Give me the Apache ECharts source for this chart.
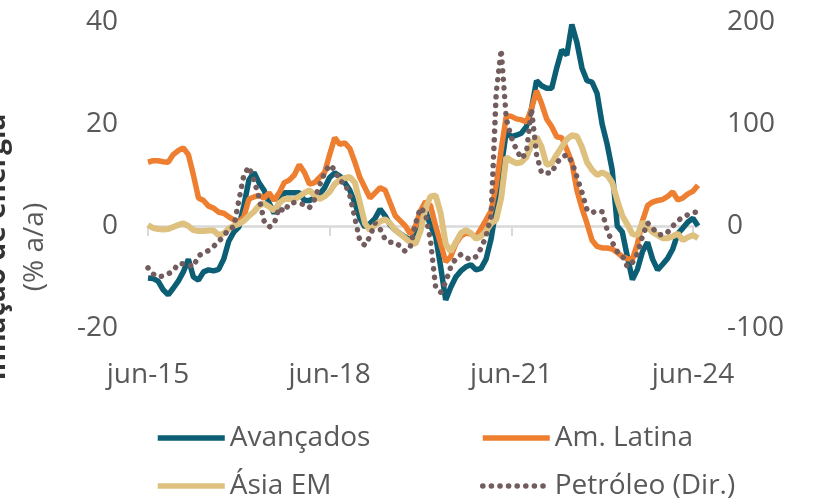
<!DOCTYPE html>
<html>
<head>
<meta charset="utf-8">
<script src="https://cdn.jsdelivr.net/npm/echarts@6/dist/echarts.min.js"></script>
<style>
  html, body { margin: 0; padding: 0; background: #fff; }
  #chart { width: 815px; height: 501px; }
</style>
</head>
<body>
<div id="chart"></div>
<script>
// meses jun-15 .. jul-24
var monthNames = ['jan', 'fev', 'mar', 'abr', 'mai', 'jun', 'jul', 'ago', 'set', 'out', 'nov', 'dez'];
var months = [];
for (var k = 0; k < 110; k++) {
    var m = (5 + k) % 12;
    var y = 15 + Math.floor((5 + k) / 12);
    months.push(monthNames[m] + '-' + y);
}

// inflação de energia (% a/a), eixo esquerdo
var avancados = [
    -10.2, -10.3, -10.8, -12.5, -13.5, -12.2, -10.8, -9, -6.5, -10,
    -10.6, -9, -8.6, -8.8, -8.5, -6.5, -3, -1.2, -0.2, 4,
    9, 10.5, 8.5, 7, 4.5, 2.5, 4.5, 6.5, 6.5, 6.5,
    6.5, 5, 5, 5.5, 6.2, 7.5, 9.5, 10.4, 9.8, 8.5,
    7, 4.5, 1.5, -0.2, 0.5, 1.5, 3.3, 2, 0.2, -0.8,
    -1.5, -2.2, -2.8, -1.5, 1, 3, 0, -2, -8, -14.5,
    -12, -10, -8.8, -8, -7.6, -8.6, -8.3, -6.5, -2.5, 3.5,
    11.5, 18.5, 17.5, 17.8, 18.2, 19.5, 23, 28.5, 27.5, 27,
    27, 31, 34.5, 33.5, 39.5, 36, 31, 28.5, 28.2, 26,
    20, 16, 11, 0, -1.2, -6, -10.5, -8.5, -5, -3.2,
    -6.5, -8.6, -7.5, -6.3, -4.5, -1.5, -0.4, 0.8, 1.5, 0
];
var amLatina = [
    12.5, 12.8, 12.8, 12.6, 12.5, 14, 14.8, 15.3, 14, 10,
    5.5, 5, 3.9, 3.5, 2.7, 2.5, 1.8, 1.2, 0.8, 1.8,
    5.3, 5.7, 6, 5.5, 6.5, 5, 6.5, 8.5, 9, 10,
    12, 10.5, 8.2, 8.5, 9.5, 10.5, 14, 17.3, 16, 16.3,
    15.2, 12.5, 9.5, 7.5, 5.5, 6.5, 7.5, 7, 4.5, 2,
    1, 0, -1.6, 0, 3, 4.8, 4, 0, -3.5, -7,
    -6, -3.5, -2, -1.4, -1.6, -2.2, -0.5, 1.2, 3, 8,
    15, 21.5, 21.5, 21, 20.8, 20.4, 23, 26.5, 24, 21,
    19.5, 17.5, 17.3, 15, 12.5, 7, 3.5, 0.5, -2.8, -4,
    -4.3, -4.3, -4.5, -5.2, -6, -6.4, -6.5, -3.5, 1, 4,
    4.7, 5, 5.2, 5.8, 6.7, 5.1, 5.5, 6.3, 6.8, 8
];
var asiaEM = [
    0.2, -0.4, -0.6, -0.7, -0.6, -0.2, 0.2, 0.5, 0, -0.8,
    -1, -1, -0.9, -0.9, -1.8, -1.5, -0.5, 0, 0.4, 1,
    2, 2.8, 4, 4.4, 3.8, 3, 4.5, 5.3, 5.3, 5.2,
    5.8, 6.5, 7, 6, 5.3, 5.8, 6.7, 8.2, 9, 9.4,
    9.6, 8.5, 4.5, 0.5, -0.8, 0.2, 0.9, 1.3, 0.5, -0.8,
    -1.6, -2.4, -3.2, -3.5, -1, 3.5, 5.8, 6, 2.5, -3.5,
    -5, -3.2, -1.4, -0.8, -1.4, -2.5, -2, -1, 0.5, 1.2,
    5.5, 13.5, 12.8, 12.3, 12.5, 13.5, 15.9, 17.5, 15.5, 12,
    12.3, 14, 15.5, 17, 17.8, 17.6, 15.5, 12.5, 11, 10,
    10.5, 10, 8.5, 5, 2, 0.3, -1.6, -1.8, 0.8, -0.3,
    -1.2, -1.8, -2.4, -2.4, -2, -1.5, -2.8, -2.2, -1.8, -2.4
];
// petróleo (% a/a), eixo direito
var petroleo = [
    -41, -47, -50, -49, -47, -44, -37, -37, -38, -40,
    -29, -27, -24, -20, -15, -10, -3, -1, 25, 50,
    58, 45, 28, 5, -1, 2, 18, 14, 22, 23,
    22, 21, 18, 26, 40, 52, 60, 55, 44, 42,
    30, 8, -15, -19, -10, 3, -3, -13, -16, -16,
    -20, -25, -20, 2, 18, 12, -15, -60, -65, -55,
    -40, -32, -28, -31, -33, -30, -22, -10, 10, 130,
    173, 105, 87, 75, 66, 72, 115, 70, 52, 52,
    52, 62, 67, 70, 63, 48, 33, 16, 13, 15,
    14, -4, -16, -25, -29, -40, -36, -27, -10, 3,
    -2, -8, -9, -6, 0, 5, 9, 11, 13, 14
];

var leftTicks = { min: -20, max: 40, interval: 20 };
var rightTicks = { min: -100, max: 200, interval: 100 };

var colors = {
    avancados: '#0B5E74',
    amLatina: '#EE7F30',
    asia: '#DEC07F',
    petroleo: '#735C5E'
};

var chart = echarts.init(document.getElementById('chart'));

function legendItem(name, left, top) {
    return {
        data: [name],
        left: left,
        top: top,
        padding: 0,
        itemWidth: 67,
        itemHeight: 14,
        selectedMode: false,
        itemStyle: { opacity: 0 },
        lineStyle: { width: 5.5 },
        textStyle: { color: '#595959', fontSize: 28, fontFamily: 'Open Sans' }
    };
}

var option = {
    animation: false,
    textStyle: { fontFamily: 'Open Sans' },
    grid: { left: 148, right: 117, top: 22, bottom: 173 },
    legend: [
        legendItem('Avançados', 155, 424),
        legendItem('Am. Latina', 480, 424),
        legendItem('Ásia EM', 155, 472),
        legendItem('Petróleo (Dir.)', 480, 472)
    ],
    xAxis: [{
        type: 'category',
        data: months,
        boundaryGap: false,
        position: 'bottom',
        axisLine: { onZero: true, lineStyle: { color: '#D9D9D9', width: 2.5 } },
        axisTick: { interval: 35, length: 10, lineStyle: { color: '#D9D9D9', width: 2 } },
        axisLabel: { show: false }
    }, {
        type: 'category',
        data: months,
        boundaryGap: false,
        position: 'bottom',
        axisLine: { show: false, onZero: false },
        axisTick: { show: false },
        axisLabel: { interval: 35, color: '#595959', fontSize: 28, margin: 33 }
    }],
    yAxis: [{
        type: 'value',
        position: 'left',
        min: leftTicks.min,
        max: leftTicks.max,
        interval: leftTicks.interval,
        splitLine: { show: false },
        axisLine: { show: false },
        axisTick: { show: false },
        axisLabel: { color: '#595959', fontSize: 28, margin: 30 }
    }, {
        type: 'value',
        position: 'right',
        min: rightTicks.min,
        max: rightTicks.max,
        interval: rightTicks.interval,
        splitLine: { show: false },
        axisLine: { show: false },
        axisTick: { show: false },
        axisLabel: { color: '#595959', fontSize: 28, margin: 29 }
    }],
    graphic: [{
        type: 'text',
        x: -3,
        y: 247,
        rotation: Math.PI / 2,
        style: {
            text: 'Inflação de energia',
            font: 'bold 28px "Open Sans"',
            fill: '#333333',
            textAlign: 'center',
            textVerticalAlign: 'middle'
        }
    }, {
        type: 'text',
        x: 35,
        y: 247,
        rotation: Math.PI / 2,
        style: {
            text: '(% a/a)',
            font: '28px "Open Sans"',
            fill: '#595959',
            textAlign: 'center',
            textVerticalAlign: 'middle'
        }
    }],
    series: [{
        name: 'Avançados',
        type: 'line',
        data: avancados,
        symbol: 'none',
        lineStyle: { color: colors.avancados, width: 5.5 },
        itemStyle: { color: colors.avancados }
    }, {
        name: 'Am. Latina',
        type: 'line',
        data: amLatina,
        symbol: 'none',
        lineStyle: { color: colors.amLatina, width: 5.5 },
        itemStyle: { color: colors.amLatina }
    }, {
        name: 'Ásia EM',
        type: 'line',
        data: asiaEM,
        symbol: 'none',
        lineStyle: { color: colors.asia, width: 6 },
        itemStyle: { color: colors.asia }
    }, {
        name: 'Petróleo (Dir.)',
        type: 'line',
        yAxisIndex: 1,
        data: petroleo,
        symbol: 'none',
        lineStyle: { color: colors.petroleo, width: 5.5, type: [0.1, 8.5], cap: 'round' },
        itemStyle: { color: colors.petroleo }
    }]
};

chart.setOption(option);
</script>
</body>
</html>
